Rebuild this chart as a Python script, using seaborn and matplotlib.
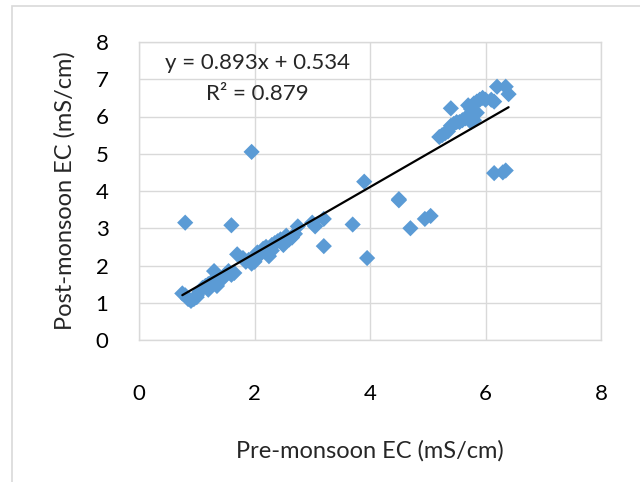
import matplotlib
matplotlib.use("Agg")
import matplotlib.pyplot as plt
import seaborn as sns
import numpy as np
import pandas as pd
from matplotlib.patches import Rectangle

pre_ec = [0.75, 0.8, 0.85, 0.9, 0.95, 1.0, 1.05, 1.1, 1.15, 1.2, 1.25, 1.3, 1.35, 1.4,
          1.45, 1.5, 1.55, 1.6, 1.65, 1.7, 1.8, 1.85, 1.9, 1.95, 2.0, 2.05, 2.1, 2.15,
          2.2, 2.25, 2.3, 2.35, 2.4, 2.45, 2.5, 2.55, 2.6, 2.65, 2.7, 2.75, 2.0, 2.3,
          1.2, 1.0,
          0.8, 1.6, 1.95, 3.0, 3.05, 3.2, 3.2, 3.7, 3.9, 3.95, 4.5, 4.5, 4.7, 4.95, 5.05,
          6.15, 6.3, 6.35,
          5.2, 5.25, 5.3, 5.35, 5.4, 5.45, 5.5, 5.55, 5.6, 5.65, 5.7, 5.7, 5.75, 5.75,
          5.8, 5.8, 5.85, 5.85, 5.9, 5.95, 6.0, 6.1, 6.15, 6.2, 6.35, 6.4, 5.4]
post_ec = [1.25, 1.2, 1.1, 1.05, 1.1, 1.2, 1.3, 1.4, 1.45, 1.5, 1.55, 1.85, 1.45, 1.6,
           1.65, 1.75, 1.85, 1.75, 1.8, 2.3, 2.2, 2.1, 2.15, 2.05, 2.2, 2.35, 2.3, 2.45,
           2.5, 2.25, 2.4, 2.6, 2.65, 2.7, 2.55, 2.8, 2.7, 2.75, 2.85, 3.05, 2.1, 2.55,
           1.35, 1.15,
           3.15, 3.08, 5.05, 3.15, 3.05, 3.25, 2.52, 3.1, 4.25, 2.2, 3.78, 3.75, 3.0, 3.25, 3.33,
           4.48, 4.5, 4.55,
           5.45, 5.5, 5.55, 5.6, 5.75, 5.8, 5.85, 5.85, 5.9, 5.95, 6.0, 6.3, 6.2, 5.85,
           6.35, 5.9, 6.4, 6.1, 6.45, 6.5, 6.45, 6.45, 6.4, 6.8, 6.8, 6.6, 6.22]

slope = 0.893
intercept = 0.534
r2 = 0.879

x_ticks = [0, 2, 4, 6, 8]
y_ticks = [0, 1, 2, 3, 4, 5, 6, 7, 8]

sns.set_theme(style="white")
plt.rcParams['font.family'] = ['Lato', 'DejaVu Sans']

df = pd.DataFrame({"pre": pre_ec, "post": post_ec})

fig = plt.figure(figsize=(6.4, 4.82), dpi=100)
ax = fig.add_axes([139/640, 1-340/482, (601-139)/640, (340-42)/482])

sns.scatterplot(data=df, x="pre", y="post", marker="D", color="#5B9BD5",
                s=68, edgecolor="none", ax=ax, zorder=3)

xl = np.array([min(pre_ec), max(pre_ec)])
line_df = pd.DataFrame({"x": xl, "y": slope*xl + intercept})
sns.lineplot(data=line_df, x="x", y="y", color="black", lw=1.6, ax=ax, zorder=4)

ax.set_xlim(0, 8)
ax.set_ylim(0, 8)
ax.set_xticks(x_ticks)
ax.set_yticks(y_ticks)
ax.grid(True, color="#D9D9D9", lw=1)
for sp in ax.spines.values():
    sp.set_color("#D9D9D9")
    sp.set_linewidth(1)
ax.tick_params(axis="x", labelsize=16, pad=32, length=0, colors="black")
ax.tick_params(axis="y", labelsize=16, pad=22, length=0, colors="black")
ax.set_xlabel("Pre-monsoon EC (mS/cm)", fontsize=17, labelpad=26)
ax.set_ylabel("Post-monsoon EC (mS/cm)", fontsize=17, labelpad=14)

ax.text(2.05, 7.43, f"y = {slope}x + {intercept}", ha="center", va="center", fontsize=16, zorder=5)
ax.text(2.05, 6.6, f"R² = {r2}", ha="center", va="center", fontsize=16, zorder=5)

fig.patches.append(Rectangle((12/640, -0.05), 1.0, 1-6/482+0.05, transform=fig.transFigure,
                             fill=False, edgecolor="#D9D9D9", lw=1.2))

fig.savefig("out.png", dpi=100)
